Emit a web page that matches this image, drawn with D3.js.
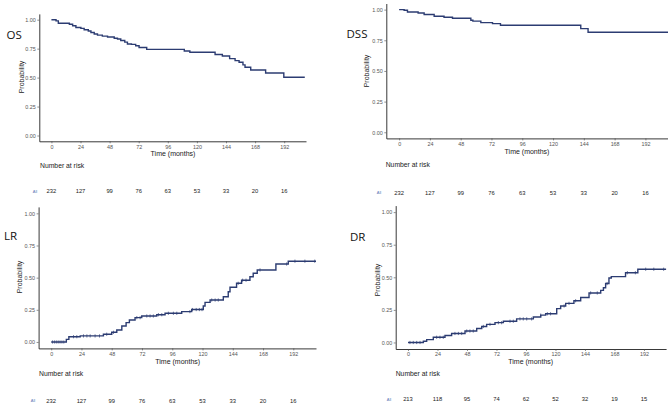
<!DOCTYPE html>
<html><head><meta charset="utf-8">
<script src="https://cdn.jsdelivr.net/npm/d3@7"></script>
<style>body{margin:0;background:#fff}svg{display:block}</style>
</head><body>
<svg id="c" width="668" height="403"></svg>
<script>
// ---------- data ----------
const xTicks = [0, 24, 48, 72, 96, 120, 144, 168, 192];
const yTicks = [0, 0.25, 0.5, 0.75, 1];
const panelTitles = ["OS", "DSS", "LR", "DR"];
const riskLabel = "All";

const osTimes  = [0, 3.8, 5.7, 14.8, 17.5, 20.2, 24.3, 27, 30.4, 32.6, 35.3, 38, 42, 46.3, 51.8, 54.5, 57.2, 60.5, 62.7, 66, 69.5, 72.3, 78.6, 109.6, 114.2, 135, 141, 147, 151.5, 154.8, 158, 159.7, 164.4, 176.7, 191.7, 209];
const osValues = [1, 0.99, 0.969, 0.96, 0.948, 0.933, 0.925, 0.913, 0.902, 0.89, 0.876, 0.867, 0.858, 0.85, 0.84, 0.833, 0.82, 0.806, 0.79, 0.787, 0.775, 0.76, 0.744, 0.73, 0.719, 0.70, 0.687, 0.664, 0.647, 0.633, 0.61, 0.59, 0.566, 0.54, 0.503, 0.503];

const dssTimes  = [0, 3.9, 6.5, 14.8, 19.5, 27.3, 35, 41.6, 55.9, 57.5, 63.7, 72.8, 79, 141.6, 147.3, 210];
const dssValues = [1, 0.995, 0.981, 0.973, 0.96, 0.946, 0.938, 0.93, 0.914, 0.906, 0.894, 0.886, 0.873, 0.845, 0.816, 0.816];

const lrTimes  = [0, 12, 14, 23, 41.4, 48, 52, 56, 59.4, 62, 66.5, 71.8, 83.7, 90.3, 103.5, 111.4, 120.6, 122, 126, 136.5, 140.4, 141.8, 147, 151, 157.6, 160.2, 163.4, 178.2, 188, 210];
const lrValues = [0, 0.02, 0.041, 0.047, 0.06, 0.075, 0.093, 0.124, 0.15, 0.171, 0.189, 0.202, 0.212, 0.223, 0.236, 0.252, 0.28, 0.308, 0.326, 0.352, 0.39, 0.425, 0.456, 0.48, 0.507, 0.534, 0.56, 0.606, 0.628, 0.628];
const lrCensor = [1, 2.5, 4, 5.5, 7, 8.5, 10, 17.7, 20.3, 25.6, 28.3, 30.9, 34.8, 38.3, 44, 49.4, 67.9, 70.5, 75.8, 78.4, 81, 85, 87.7, 92.9, 96.9, 99.6, 110, 112, 115, 117.5, 119.6, 127.3, 130, 132.5, 148.3, 151.8, 154.5, 165.6, 186.7, 193.3, 201.2, 209];

const drTimes  = [0, 12.5, 15.2, 20.6, 30.1, 35.5, 46.4, 55.9, 60, 64, 70.8, 77.6, 88.4, 102, 108, 112, 121, 124.2, 128.3, 135, 140.5, 147.3, 156.8, 159, 160.8, 163.5, 165.4, 177, 187, 210];
const drValues = [0, 0.01, 0.022, 0.04, 0.053, 0.069, 0.088, 0.107, 0.123, 0.139, 0.152, 0.163, 0.181, 0.195, 0.21, 0.22, 0.26, 0.28, 0.30, 0.32, 0.345, 0.38, 0.40, 0.42, 0.452, 0.495, 0.505, 0.535, 0.562, 0.562];
const drCensor = [1.6, 4.3, 7.1, 9.8, 23.3, 26, 28.7, 38.2, 41, 43.7, 47.8, 50.4, 53.1, 61.3, 66.7, 73.5, 76.2, 83, 85.7, 91.1, 93.8, 96.6, 100.6, 108, 113.4, 116, 127, 131, 136.4, 148.6, 154, 162, 178.5, 185, 193.4, 200, 208];

const riskOS  = [232, 127, 99, 76, 63, 53, 33, 20, 16];
const riskDSS = [232, 127, 99, 76, 63, 53, 33, 20, 16];
const riskLR  = [232, 127, 99, 76, 63, 53, 33, 20, 16];
const riskDR  = [213, 118, 95, 74, 62, 52, 32, 19, 15];

// ---------- layout ----------
const layout = [
  {times: osTimes, values: osValues, censor: [], risk: riskOS,
   xr: [39.3, 306], yr: [141.3, 13.9], title: [6.5, 39], ylab: [21.5, 77], xlab: [173, 155.5], nar: [40, 167.5], riskY: 193, allX: 35},
  {times: dssTimes, values: dssValues, censor: [], risk: riskDSS,
   xr: [386.3, 668.5], yr: [138.4, 3.5], title: [346.5, 37.5], ylab: [366, 71], xlab: [527, 154], nar: [385.7, 166.5], riskY: 194.5, allX: 379},
  {times: lrTimes, values: lrValues, censor: lrCensor, risk: riskLR,
   xr: [38.6, 316], yr: [348.4, 206.9], title: [4, 239.5], ylab: [19.5, 277], xlab: [177.7, 363.5], nar: [39, 375.5], riskY: 402.5, allX: 33},
  {times: drTimes, values: drValues, censor: drCensor, risk: riskDR,
   xr: [395.7, 666.1], yr: [349, 205.6], title: [350, 240.5], ylab: [377.5, 280], xlab: [530.7, 363.5], nar: [395.7, 375.5], riskY: 401, allX: 389}
];

const LINE = "#2c3c72";
const svg = d3.select("#c");
const FONT = "'Liberation Sans', Arial, sans-serif";

layout.forEach((p, i) => {
  const x = d3.scaleLinear().domain([-10, 210]).range(p.xr);
  const y = d3.scaleLinear().domain([-0.05, 1.05]).range(p.yr);
  const g = svg.append("g");

  // axes
  const ax = g.append("g").attr("transform", `translate(0,${p.yr[0]})`)
    .call(d3.axisBottom(x).tickValues(xTicks).tickSize(2).tickSizeOuter(0).tickPadding(1.5));
  const ay = g.append("g").attr("transform", `translate(${p.xr[0]},0)`)
    .call(d3.axisLeft(y).tickValues(yTicks).tickFormat(d3.format(".2f")).tickSize(2).tickSizeOuter(0).tickPadding(1.5));
  [ax, ay].forEach(a => {
    a.select(".domain").attr("stroke", "#222").attr("stroke-width", 0.9);
    a.selectAll(".tick line").attr("stroke", "#444").attr("stroke-width", 0.6);
    a.selectAll(".tick text").attr("fill", "#555").attr("font-size", 5.4).attr("font-family", FONT);
  });

  // curve
  const pts = p.times.map((t, k) => [t, p.values[k]]);
  const line = d3.line().x(d => x(d[0])).y(d => y(d[1])).curve(d3.curveStepAfter);
  g.append("path").attr("d", line(pts)).attr("fill", "none")
    .attr("stroke", LINE).attr("stroke-width", 1.4);

  // censor marks
  const valAt = t => p.values[Math.max(0, d3.bisectRight(p.times, t) - 1)];
  g.selectAll(".cen").data(p.censor).join("line")
    .attr("x1", d => x(d)).attr("x2", d => x(d))
    .attr("y1", d => y(valAt(d)) - 1.6).attr("y2", d => y(valAt(d)) + 1.6)
    .attr("stroke", LINE).attr("stroke-width", 0.7);

  // titles
  g.append("text").attr("x", p.title[0]).attr("y", p.title[1])
    .attr("font-family", "'Open Sans', sans-serif").attr("font-size", 11.5).attr("fill", "#111")
    .text(panelTitles[i]);
  g.append("text").attr("transform", `translate(${p.ylab[0]},${p.ylab[1]}) rotate(-90)`)
    .attr("text-anchor", "middle").attr("dominant-baseline", "central")
    .attr("font-family", FONT).attr("font-size", 7).attr("fill", "#222").text("Probability");
  g.append("text").attr("x", p.xlab[0]).attr("y", p.xlab[1]).attr("text-anchor", "middle")
    .attr("font-family", FONT).attr("font-size", 7).attr("fill", "#222").text("Time (months)");
  g.append("text").attr("x", p.nar[0]).attr("y", p.nar[1])
    .attr("font-family", FONT).attr("font-size", 6.8).attr("fill", "#222").text("Number at risk");

  // risk table
  g.append("text").attr("x", p.allX).attr("y", p.riskY - 0.5).attr("text-anchor", "middle")
    .attr("font-family", FONT).attr("font-size", 4).attr("fill", "#5a7ab8").text(riskLabel);
  g.selectAll(".rk").data(p.risk).join("text")
    .attr("x", (d, k) => x(xTicks[k])).attr("y", p.riskY).attr("text-anchor", "middle")
    .attr("font-family", FONT).attr("font-size", 5.8).attr("fill", "#222").text(d => d);
});
</script>
</body></html>
